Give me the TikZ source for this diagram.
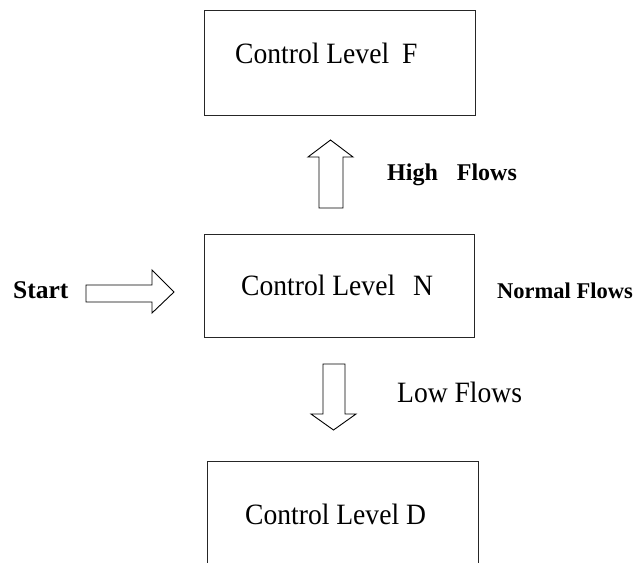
\documentclass[tikz,border=0pt]{standalone}
\usepackage{fontspec}
\setmainfont{Liberation Serif}
\newcommand\narrowtxt[1]{\scalebox{0.935}[1]{#1}}
\begin{document}
\begin{tikzpicture}[x=1pt,y=-1pt,
  levelbox/.style={draw=black!85, line width=0.9pt},
  blockarrow/.style={draw=black, line width=0.9pt, fill=white, line join=miter},
  lbl/.style={inner sep=0pt, anchor=base west, font=\fontsize{29.5}{32}\selectfont},
  lblb/.style={inner sep=0pt, anchor=base west, font=\bfseries\fontsize{25.5}{30}\selectfont}]
\useasboundingbox (0,0) rectangle (644,562);
\clip (0,0) rectangle (644,562);
% boxes
\draw[levelbox] (204,10) rectangle (475,115);
\draw[levelbox] (204,234) rectangle (474,337);
\draw[levelbox] (207,461) rectangle (478,600);
% texts
\node[lbl] (tF) at (235,63) {\narrowtxt{Control Level}};
\node[lbl] (tFl) at (402,63) {\narrowtxt{F}};
\node[lbl] (tN) at (241,295) {\narrowtxt{Control Level}};
\node[lbl] (tNl) at (413,295) {\narrowtxt{N}};
\node[lbl] (tD) at (245,524) {\narrowtxt{Control Level}};
\node[lbl] (tDl) at (406,524) {\narrowtxt{D}};
\node[lblb] (start) at (13,298) {Start};
\node[lblb, font=\bfseries\fontsize{24}{28}\selectfont] (high) at (387,180) {High\hspace{19pt}Flows};
\node[lblb, font=\bfseries\fontsize{22.5}{26}\selectfont] (normal) at (497,298) {Normal Flows};
\node[lbl] (low) at (397,402) {\narrowtxt{Low Flows}};
% block arrows
\draw[blockarrow] (319,208) -- (319,157) -- (308,157) -- (330.5,140) -- (353,157) -- (343,157) -- (343,208) -- cycle;
\draw[blockarrow] (86,285) -- (152,285) -- (152,270) -- (174,292) -- (152,313) -- (152,302) -- (86,302) -- cycle;
\draw[blockarrow] (323,364) -- (345,364) -- (345,414) -- (356,414) -- (333.5,430) -- (311,414) -- (323,414) -- cycle;
\end{tikzpicture}
\end{document}
